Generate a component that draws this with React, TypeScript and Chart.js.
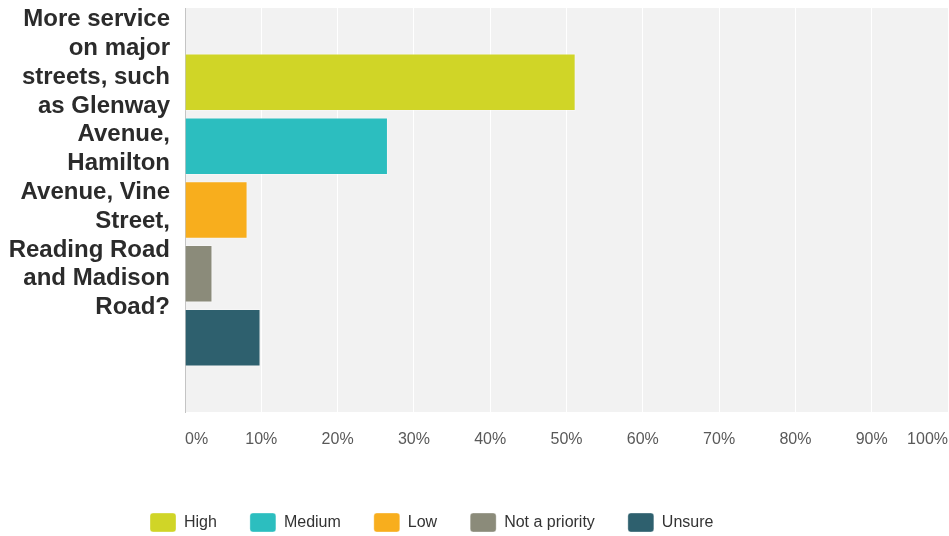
import React, { useEffect, useRef } from "react";
import { Chart, registerables } from "chart.js";

Chart.register(...registerables);

const categoryLines: string[] = [
  "More service",
  "on major",
  "streets, such",
  "as Glenway",
  "Avenue,",
  "Hamilton",
  "Avenue, Vine",
  "Street,",
  "Reading Road",
  "and Madison",
  "Road?",
];
const seriesNames: string[] = ["High", "Medium", "Low", "Not a priority", "Unsure"];
const seriesValues: number[] = [51.2, 26.6, 8.2, 3.6, 9.9];
const seriesColors: string[] = ["#d0d527", "#2cbebf", "#f8ae1d", "#8b8b7a", "#2e606e"];
const xTicks: number[] = [0, 10, 20, 30, 40, 50, 60, 70, 80, 90, 100];

const plotBg = {
  id: "plotBg",
  beforeDraw(chart: any) {
    const { ctx, chartArea } = chart;
    if (!chartArea) return;
    ctx.save();
    ctx.fillStyle = "#f2f2f2";
    ctx.fillRect(chartArea.left, chartArea.top, chartArea.right - chartArea.left, chartArea.bottom - chartArea.top);
    ctx.restore();
  },
};

// shifts the legend row start to the left offset used in the reference
const legendShift = {
  id: "legendShift",
  afterLayout(chart: any) {
    if (chart.legend) chart.legend.left = 117;
  },
};

export default function App() {
  const ref = useRef<HTMLCanvasElement | null>(null);
  useEffect(() => {
    if (!ref.current) return;
    const chart = new Chart(ref.current, {
      type: "bar",
      data: {
        labels: [categoryLines],
        datasets: seriesNames.map((name, i) => ({
          label: name,
          data: [seriesValues[i]],
          backgroundColor: seriesColors[i],
          borderColor: "rgba(255,255,255,0.35)",
          borderWidth: 1,
          categoryPercentage: 0.79,
          barPercentage: 0.9,
        })),
      },
      options: {
        indexAxis: "y",
        animation: false,
        responsive: true,
        maintainAspectRatio: false,
        layout: { padding: { top: 8, right: 1, left: 0, bottom: 0 } },
        plugins: {
          tooltip: { enabled: false },
          legend: {
            position: "bottom",
            align: "start",
            labels: {
              boxWidth: 26,
              boxHeight: 19,
              padding: 33,
              color: "#333333",
              useBorderRadius: true,
              borderRadius: 3,
              font: { family: "'Liberation Sans', Arial, sans-serif", size: 16 },
            },
          },
        },
        scales: {
          x: {
            type: "linear",
            min: 0,
            max: 100,
            afterFit: (scale: any) => {
              scale.height = 68;
              scale.paddingLeft = 0;
              scale.paddingRight = 0;
            },
            afterBuildTicks: (scale: any) => {
              scale.ticks = xTicks.map((v) => ({ value: v }));
            },
            ticks: {
              align: "inner",
              padding: 18,
              color: "#595959",
              font: { family: "'Liberation Sans', Arial, sans-serif", size: 16 },
              callback: (v: any) => v + "%",
            },
            grid: {
              drawTicks: false,
              color: (c: any) => (c.index === 0 ? "rgba(0,0,0,0)" : "#ffffff"),
              lineWidth: 1,
            },
            border: { display: false },
          },
          y: {
            afterFit: (scale: any) => {
              scale.width = 185;
              scale.paddingTop = 0;
              scale.paddingBottom = 0;
            },
            ticks: {
              padding: 15,
              labelOffset: -46.5,
              color: "#2b2b2b",
              font: { family: "'Liberation Sans', Arial, sans-serif", size: 24, weight: "bold", lineHeight: 1.2 },
            },
            grid: { display: false, drawTicks: false },
            border: { display: true, color: "#c4c4c4", width: 1 },
          },
        },
      },
      plugins: [plotBg, legendShift],
    });
    return () => chart.destroy();
  }, []);
  return (
    <div style={{ position: "fixed", top: 0, left: 0, width: 949, height: 542 }}>
      <canvas ref={ref} />
    </div>
  );
}
